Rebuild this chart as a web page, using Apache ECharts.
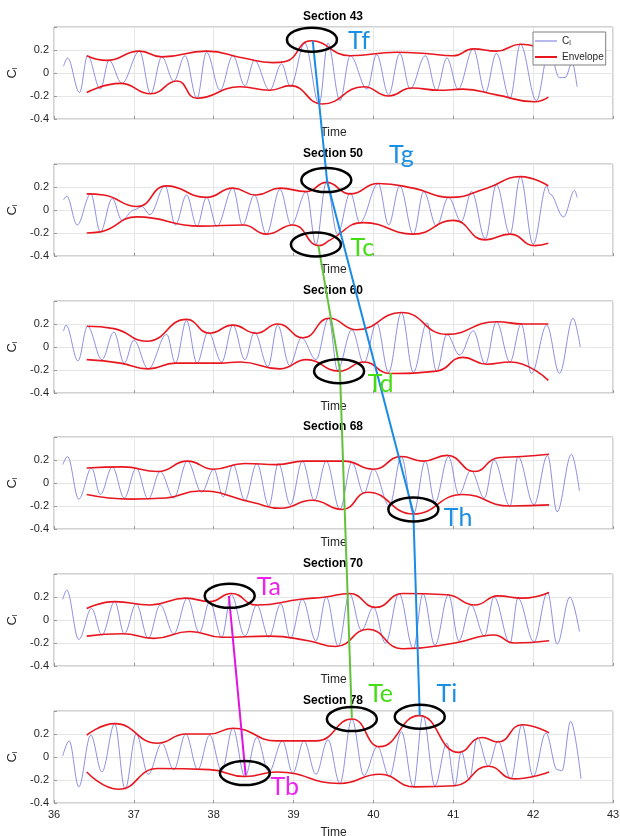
<!DOCTYPE html>
<html>
<head>
<meta charset="utf-8">
<script src="https://cdn.jsdelivr.net/npm/echarts@6/dist/echarts.min.js"></script>
<style>
  html, body { margin: 0; padding: 0; background: #fff; }
  #main { width: 620px; height: 836px; }
</style>
</head>
<body>
<div id="main"></div>
<script>
  // section titles, top to bottom
  var sections = ['Section 43', 'Section 50', 'Section 60', 'Section 68', 'Section 70', 'Section 78'];
  var yTickLabels = ['-0.4', '-0.2', '0', '0.2'];

  // Cl signal, [time, Cl] read at the peaks / troughs
  var cl43 = [[36.12,0.06],[36.17,0.13],[36.32,-0.17],[36.42,0.15],[36.58,-0.14],[36.69,0.11],[36.85,-0.09],[37.07,0.19],[37.21,-0.18],[37.35,0.14],[37.5,-0.07],[37.64,0.15],[37.79,-0.22],[37.91,0.18],[38.08,-0.15],[38.24,0.15],[38.39,-0.11],[38.51,0.11],[38.7,-0.15],[38.85,0.08],[38.96,-0.12],[39.14,0.26],[39.32,-0.27],[39.43,0.26],[39.58,-0.24],[39.71,0.15],[39.92,-0.14],[40.04,0.16],[40.19,-0.19],[40.33,0.17],[40.46,-0.14],[40.65,0.15],[40.79,-0.15],[40.92,0.13],[41.06,-0.14],[41.25,0.21],[41.4,-0.17],[41.54,0.17],[41.71,-0.22],[41.84,0.25],[42.04,-0.24],[42.2,0.2],[42.33,-0.04],[42.4,-0.04],[42.49,0.09],[42.55,-0.12]];
  var cl50 = [[36.12,0.09],[36.16,0.12],[36.29,-0.13],[36.46,0.14],[36.58,-0.19],[36.73,0.1],[36.85,-0.09],[37.0,0.0],[37.1,0.03],[37.2,-0.04],[37.39,0.21],[37.52,-0.13],[37.66,0.13],[37.79,-0.14],[37.91,0.11],[38.04,-0.14],[38.24,0.19],[38.36,-0.13],[38.51,0.13],[38.66,-0.21],[38.83,0.18],[38.97,-0.13],[39.16,0.16],[39.28,-0.3],[39.41,0.24],[39.55,-0.21],[39.71,0.15],[39.83,-0.11],[40.06,0.23],[40.19,-0.13],[40.33,0.21],[40.5,-0.21],[40.63,0.16],[40.79,-0.14],[40.94,0.11],[41.1,-0.1],[41.23,0.16],[41.4,-0.25],[41.54,0.22],[41.71,-0.21],[41.84,0.29],[42.0,-0.3],[42.17,0.21],[42.21,0.14],[42.38,-0.06],[42.52,0.17],[42.55,0.11]];
  var cl60 = [[36.12,0.14],[36.15,0.19],[36.3,-0.12],[36.42,0.18],[36.6,-0.11],[36.75,0.13],[36.88,-0.14],[37.0,0.06],[37.18,-0.19],[37.41,0.11],[37.52,-0.14],[37.66,0.23],[37.79,-0.14],[37.93,0.13],[38.1,-0.13],[38.24,0.19],[38.39,-0.11],[38.51,0.13],[38.68,-0.17],[38.8,0.19],[38.95,-0.16],[39.1,0.08],[39.28,-0.11],[39.44,0.25],[39.55,-0.2],[39.73,0.15],[39.88,-0.14],[40.04,0.21],[40.19,-0.22],[40.35,0.3],[40.5,-0.22],[40.67,0.21],[40.79,-0.21],[40.92,0.11],[41.08,-0.07],[41.25,0.14],[41.4,-0.15],[41.54,0.22],[41.71,-0.13],[41.85,0.2],[41.98,-0.23],[42.17,0.19],[42.33,-0.23],[42.5,0.25],[42.59,0.0]];
  var cl68 = [[36.11,0.16],[36.17,0.23],[36.31,-0.14],[36.47,0.13],[36.58,-0.1],[36.73,0.14],[36.88,-0.13],[37.03,0.13],[37.18,-0.14],[37.33,0.1],[37.5,-0.13],[37.67,0.19],[37.85,-0.08],[38.0,0.12],[38.12,-0.12],[38.24,0.16],[38.39,-0.15],[38.54,0.17],[38.69,-0.2],[38.81,0.17],[38.96,-0.19],[39.11,0.19],[39.26,-0.15],[39.41,0.19],[39.58,-0.23],[39.73,0.18],[39.88,-0.09],[40.0,0.12],[40.2,-0.2],[40.35,0.23],[40.5,-0.27],[40.65,0.19],[40.77,-0.17],[40.94,0.23],[41.07,-0.1],[41.22,0.11],[41.39,-0.13],[41.51,0.2],[41.71,-0.2],[41.81,0.23],[42.01,-0.19],[42.18,0.24],[42.3,-0.25],[42.48,0.25],[42.58,-0.07]];
  var cl70 = [[36.11,0.18],[36.16,0.26],[36.31,-0.17],[36.47,0.1],[36.6,-0.13],[36.76,0.16],[36.88,-0.12],[37.03,0.14],[37.18,-0.16],[37.33,0.13],[37.5,-0.12],[37.67,0.19],[37.82,-0.11],[37.95,0.16],[38.1,-0.15],[38.22,0.22],[38.39,-0.14],[38.54,0.13],[38.69,-0.15],[38.84,0.14],[38.96,-0.16],[39.11,0.18],[39.28,-0.18],[39.41,0.2],[39.56,-0.23],[39.7,0.23],[39.85,-0.09],[40.0,0.11],[40.15,-0.2],[40.32,0.23],[40.5,-0.25],[40.62,0.23],[40.77,-0.22],[40.94,0.22],[41.07,-0.18],[41.22,0.13],[41.39,-0.14],[41.51,0.2],[41.71,-0.2],[41.81,0.19],[42.01,-0.19],[42.18,0.24],[42.3,-0.21],[42.46,0.2],[42.58,-0.1]];
  var cl78 = [[36.11,0.01],[36.19,0.14],[36.31,-0.26],[36.46,0.19],[36.6,-0.13],[36.76,0.29],[36.89,-0.28],[37.03,0.2],[37.18,-0.15],[37.35,0.12],[37.5,-0.11],[37.65,0.2],[37.8,-0.11],[37.95,0.19],[38.1,-0.12],[38.24,0.25],[38.39,-0.17],[38.54,0.17],[38.69,-0.13],[38.86,0.14],[38.99,-0.14],[39.13,0.14],[39.28,-0.15],[39.43,0.15],[39.58,-0.23],[39.73,0.33],[39.88,-0.16],[40.05,0.09],[40.2,-0.17],[40.35,0.22],[40.5,-0.26],[40.62,0.36],[40.77,-0.25],[40.92,0.12],[41.02,-0.25],[41.1,0.05],[41.2,-0.2],[41.3,0.17],[41.44,-0.08],[41.56,0.14],[41.72,-0.19],[41.86,0.28],[42.0,-0.17],[42.16,0.21],[42.3,-0.11],[42.36,-0.12],[42.47,0.31],[42.6,-0.19]];

  // upper and lower envelopes, [time, Cl]
  var up43 = [[36.41,0.15],[36.66,0.11],[37.07,0.19],[37.35,0.14],[37.91,0.19],[38.37,0.13],[38.74,0.09],[38.9,0.1],[39.22,0.28],[39.71,0.15],[40.29,0.18],[40.65,0.17],[41.0,0.15],[41.25,0.21],[41.54,0.19],[41.84,0.25],[42.19,0.19]];
  var low43 = [[36.41,-0.17],[36.83,-0.09],[37.21,-0.18],[37.54,-0.07],[37.79,-0.22],[38.33,-0.12],[38.7,-0.15],[38.96,-0.11],[39.36,-0.27],[39.88,-0.12],[40.19,-0.2],[40.48,-0.13],[40.83,-0.15],[41.12,-0.14],[41.54,-0.19],[42.02,-0.25],[42.19,-0.21]];
  var up50 = [[36.41,0.14],[36.62,0.13],[37.04,0.03],[37.41,0.21],[37.91,0.11],[38.24,0.19],[38.53,0.13],[38.83,0.19],[39.16,0.16],[39.41,0.24],[39.71,0.14],[40.06,0.23],[40.5,0.19],[40.96,0.11],[41.42,0.19],[41.84,0.29],[42.19,0.21]];
  var low50 = [[36.41,-0.2],[36.58,-0.19],[37.04,-0.06],[37.83,-0.14],[38.37,-0.13],[38.66,-0.21],[38.99,-0.13],[39.32,-0.31],[39.46,-0.26],[39.88,-0.11],[40.5,-0.21],[41.0,-0.09],[41.4,-0.26],[41.71,-0.21],[42.02,-0.31],[42.19,-0.29]];
  var up60 = [[36.41,0.18],[36.75,0.16],[37.16,0.05],[37.66,0.24],[37.95,0.12],[38.24,0.19],[38.53,0.12],[38.8,0.2],[39.12,0.08],[39.45,0.25],[39.79,0.15],[40.35,0.3],[40.92,0.11],[41.54,0.22],[41.88,0.2],[42.19,0.2]];
  var low60 = [[36.41,-0.11],[36.83,-0.14],[37.18,-0.19],[37.52,-0.14],[38.08,-0.14],[38.33,-0.13],[38.83,-0.19],[39.16,-0.11],[39.57,-0.21],[39.88,-0.13],[40.21,-0.23],[40.79,-0.21],[41.12,-0.09],[41.42,-0.15],[41.71,-0.13],[42.19,-0.29]];
  var up68 = [[36.41,0.13],[36.86,0.14],[37.3,0.1],[37.67,0.19],[38.0,0.12],[38.39,0.17],[38.79,0.16],[39.13,0.19],[39.63,0.19],[40.0,0.12],[40.35,0.23],[40.62,0.19],[40.92,0.24],[41.27,0.1],[41.56,0.22],[41.86,0.23],[42.2,0.25]];
  var low68 = [[36.41,-0.1],[36.96,-0.14],[37.4,-0.13],[37.82,-0.07],[38.49,-0.17],[38.84,-0.22],[39.23,-0.15],[39.61,-0.23],[39.93,-0.08],[40.5,-0.27],[41.12,-0.1],[41.71,-0.2],[42.2,-0.19]];
  var up70 = [[36.41,0.1],[36.76,0.16],[37.2,0.13],[37.65,0.19],[37.95,0.16],[38.22,0.23],[38.54,0.13],[39.09,0.18],[39.4,0.2],[39.7,0.23],[40.03,0.11],[40.37,0.23],[40.92,0.22],[41.27,0.13],[41.56,0.21],[41.86,0.19],[42.2,0.24]];
  var low70 = [[36.41,-0.14],[36.86,-0.12],[37.25,-0.16],[37.7,-0.1],[38.1,-0.15],[38.7,-0.14],[39.18,-0.18],[39.53,-0.23],[39.93,-0.08],[40.37,-0.25],[41.02,-0.2],[41.51,-0.13],[41.76,-0.2],[42.2,-0.18]];
  var up78 = [[36.41,0.19],[36.76,0.29],[37.3,0.12],[37.65,0.2],[37.95,0.2],[38.24,0.25],[38.79,0.14],[39.28,0.14],[39.73,0.33],[40.08,0.09],[40.57,0.36],[41.07,0.04],[41.36,0.17],[41.56,0.13],[41.86,0.28],[42.2,0.21]];
  var low78 = [[36.41,-0.13],[36.81,-0.28],[37.3,-0.1],[37.95,-0.11],[38.39,-0.17],[38.79,-0.13],[39.58,-0.23],[40.08,-0.15],[40.52,-0.26],[41.02,-0.25],[41.44,-0.08],[41.76,-0.19],[42.2,-0.13]];

  var clList = [cl43, cl50, cl60, cl68, cl70, cl78];
  var upList = [up43, up50, up60, up68, up70, up78];
  var lowList = [low43, low50, low60, low68, low70, low78];

  // annotations: [section index, time, Cl]
  var circles = [[0,39.23,0.29],[1,39.41,0.26],[1,39.28,-0.30],[2,39.57,-0.21],[3,40.5,-0.23],[4,38.2,0.21],[5,38.39,-0.14],[5,39.73,0.33],[5,40.58,0.35]];
  var blueLink = [[0,39.24,0.28],[1,39.42,0.25],[3,40.5,-0.26],[5,40.58,0.36]];
  var greenLink = [[1,39.31,-0.31],[2,39.58,-0.2],[5,39.73,0.34]];
  var magentaLink = [[4,38.19,0.21],[5,38.4,-0.16]];
  var marks = [['Tf',0,39.82,0.28,'#1a8fe3'],['Tg',1,40.35,0.48,'#1a8fe3'],['Tc',1,39.86,-0.33,'#44dd11'],['Td',2,40.09,-0.32,'#44dd11'],
               ['Th',3,41.06,-0.3,'#1a8fe3'],['Ta',4,38.69,0.29,'#ee22ee'],['Te',5,40.09,0.55,'#44dd11'],['Ti',5,40.92,0.55,'#1a8fe3'],['Tb',5,38.89,-0.26,'#ee22ee']];

  var gridTops = [27, 164, 301, 437, 574, 711];

  var grids = [], xAxes = [], yAxes = [], series = [];
  for (var i = 0; i < sections.length; i++) {
    var last = i === sections.length - 1;
    grids.push({
      left: 54, right: 7, top: gridTops[i], height: 92,
      show: true, borderColor: '#a6a6a6', borderWidth: 1, backgroundColor: '#fff',
      outerBoundsMode: 'none'
    });
    xAxes.push({
      type: 'value', gridIndex: i, min: 36, max: 43, interval: 1,
      name: 'Time', nameLocation: 'middle', nameGap: last ? 24 : 8,
      nameTextStyle: { fontSize: 12, color: '#262626' },
      axisLine: { show: false, onZero: false },
      axisTick: { show: true, inside: true, length: 3, lineStyle: { color: '#999' } },
      axisLabel: { show: last, fontSize: 11, color: '#262626', margin: 6 },
      splitLine: { show: true, lineStyle: { color: '#e6e6e6', width: 1 } }
    });
    yAxes.push({
      type: 'value', gridIndex: i, min: -0.4, max: 0.4, interval: 0.2,
      name: '{c|C}{s|l}', nameLocation: 'middle', nameGap: 29, nameRotate: 90,
      nameTextStyle: {
        color: '#262626',
        rich: {
          c: { fontSize: 13, color: '#262626' },
          s: { fontSize: 8, color: '#262626', padding: [6, 0, 0, 0] }
        }
      },
      axisLine: { show: false, onZero: false },
      axisTick: { show: true, inside: true, length: 3, lineStyle: { color: '#999' } },
      axisLabel: {
        fontSize: 11, color: '#262626', margin: 5,
        formatter: function (v) {
          var k = Math.round((v + 0.4) / 0.2);
          return yTickLabels[k] || '';
        }
      },
      splitLine: { show: true, lineStyle: { color: '#e6e6e6', width: 1 } }
    });
    series.push({
      name: 'Cl', type: 'line', xAxisIndex: i, yAxisIndex: i,
      data: clList[i], smooth: 0.36, smoothMonotone: 'x', symbol: 'none',
      lineStyle: { color: '#7272da', width: 0.8 }, itemStyle: { color: '#7272da' },
      z: 2
    });
    series.push({
      name: 'Envelope', type: 'line', xAxisIndex: i, yAxisIndex: i,
      data: upList[i], smooth: 0.5, symbol: 'none',
      lineStyle: { color: '#e8161e', width: 1.6 }, itemStyle: { color: '#e8161e' },
      z: 3
    });
    series.push({
      name: 'Envelope', type: 'line', xAxisIndex: i, yAxisIndex: i,
      data: lowList[i], smooth: 0.5, symbol: 'none',
      lineStyle: { color: '#e8161e', width: 1.6 }, itemStyle: { color: '#e8161e' },
      z: 3
    });
  }

  var option = {
    animation: false,
    backgroundColor: '#fff',
    textStyle: { fontFamily: 'Liberation Sans, Arial, sans-serif' },
    grid: grids,
    xAxis: xAxes,
    yAxis: yAxes,
    legend: {
      data: [
        { name: 'Cl', icon: 'path://M0,0L22,0L22,1L0,1Z' },
        { name: 'Envelope', icon: 'path://M0,0L22,0L22,2L0,2Z' }
      ],
      orient: 'vertical', left: 533, top: 32,
      itemWidth: 22, itemHeight: 10, itemGap: 5,
      padding: [4, 2, 3, 2],
      backgroundColor: '#fff', borderColor: '#7f7f7f', borderWidth: 1, borderRadius: 0,
      textStyle: {
        fontSize: 10, color: '#262626',
        rich: {
          c: { fontSize: 10, color: '#262626' },
          s: { fontSize: 7, color: '#262626', padding: [5, 0, 0, 0] }
        }
      },
      formatter: function (name) {
        return name === 'Cl' ? '{c|C}{s|l}' : name;
      }
    },
    series: series
  };

  var chart = echarts.init(document.getElementById('main'));
  chart.setOption(option);

  function toPx(p) {
    return chart.convertToPixel({ gridIndex: p[0] }, [p[1], p[2]]);
  }
  function linkLine(pts, color) {
    return {
      type: 'polyline', z: 100,
      shape: { points: pts.map(toPx) },
      style: { stroke: color, lineWidth: 2, fill: null }
    };
  }

  var graphics = [];
  for (var j = 0; j < sections.length; j++) {
    graphics.push({
      type: 'text', x: 333, y: gridTops[j] - 10, z: 50,
      style: { text: sections[j], fill: '#000', font: 'bold 12px "Liberation Sans", Arial', textAlign: 'center', textVerticalAlign: 'middle' }
    });
  }
  graphics.push(linkLine(blueLink, '#1a8ce6'));
  graphics.push(linkLine(greenLink, '#62c23a'));
  graphics.push(linkLine(magentaLink, '#e014e0'));
  circles.forEach(function (c) {
    var p = toPx(c);
    graphics.push({
      type: 'ellipse', z: 101,
      shape: { cx: p[0], cy: p[1], rx: 25, ry: 12 },
      style: { fill: null, stroke: '#000', lineWidth: 2.5 }
    });
  });
  marks.forEach(function (m) {
    var p = toPx([m[1], m[2], m[3]]);
    graphics.push({
      type: 'text', x: p[0], y: p[1], z: 102,
      style: { text: m[0], fill: m[4], font: '25px Lato, "Open Sans", sans-serif', textAlign: 'center', textVerticalAlign: 'middle' }
    });
  });
  chart.setOption({ graphic: graphics });
</script>
</body>
</html>
